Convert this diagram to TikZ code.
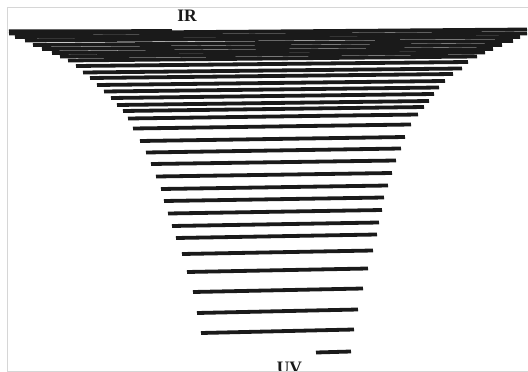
\documentclass[tikz,border=0pt]{standalone}
\usepackage{fontspec}
\setmainfont{Liberation Serif}
\definecolor{barblack}{HTML}{1A1A1A}
\definecolor{framegray}{HTML}{D6D6D6}
\begin{document}
\begin{tikzpicture}[x=1pt,y=-1pt,
  bar/.style={line width=3.8pt, draw=barblack},
  lbl/.style={font=\bfseries\fontsize{17.5}{20}\selectfont, inner sep=0pt, text=barblack}]
\useasboundingbox (0,0) rectangle (528,372);
\clip (0,0) rectangle (528,372);
\fill[white] (0,0) rectangle (528,372);
% short IR line
\draw[bar] (9,31.3) -- (172,31.1);
% long lines: xl/yl/xr/yr
\foreach \xl/\yl/\xr/\yr in {
  9/33.5/527/29.5, 15/37/527/33.5, 25/40.5/520/37,
  33/45/513/41, 42/49/502/45, 52/53/493/49, 60/56.5/485/52.5,
  68/60.5/477/56.5, 76/66/468/62, 83/72.5/462/68.5, 90/78/453/74,
  97/85/445/81, 104/91.5/439/87.5, 111/98/434/94, 117/105/429/101,
  123/111/424/107, 128/118.5/418/114.5, 133/128.5/411/124.5,
  140/141/405/137, 146/152.5/401/148.5, 151/164/396/160.5, 156/176.5/392/173,
  161/189/388/185.5, 164/201/384/197.5, 168/213.5/382/210, 172/226/379/222.5,
  176/238/377/234.5, 182/254/373/250.5, 187/272/368/268.5, 193/292/363/288.5,
  197/313/358/309.5, 201/333/354/329.5}
  \draw[bar] (\xl,\yl) -- (\xr,\yr);
% short UV line
\draw[bar] (316,352.5) -- (351,351.5);
\node[lbl, anchor=base] (ir) at (187,21.7) {IR};
\node[lbl, anchor=north] (uv) at (289.5,361.5) {UV};
\draw[framegray, line width=1.4pt] (7.7,7.3) rectangle (545,371.6);
\end{tikzpicture}
\end{document}
